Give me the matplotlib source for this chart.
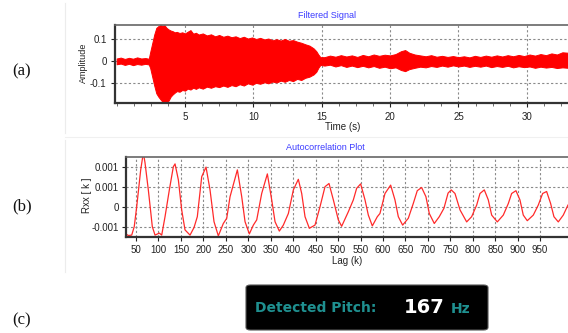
import matplotlib
matplotlib.use("Agg")
import matplotlib.pyplot as plt
from matplotlib.patches import FancyBboxPatch
from matplotlib.ticker import FixedLocator, FixedFormatter, MultipleLocator
from matplotlib.lines import Line2D

# ---------------- data: filtered signal envelope ----------------
sig_t = [0.0, 0.3, 0.6, 0.9, 1.2, 1.5, 1.8, 2.1, 2.35,
         2.45, 2.6, 2.75, 2.9, 3.05, 3.2, 3.35, 3.5, 3.65, 3.8,
         3.95, 4.1, 4.25, 4.4, 4.6, 4.8, 5.0, 5.2, 5.4, 5.6,
         5.8, 6.0, 6.3, 6.6, 6.9, 7.2, 7.5, 7.8, 8.1, 8.4,
         8.7, 9.0, 9.3, 9.6, 9.9, 10.2, 10.5, 10.8, 11.1, 11.4,
         11.7, 12.0, 12.3, 12.6, 12.9, 13.2, 13.5, 13.8, 14.1, 14.4,
         14.6, 14.75, 14.9,
         15.2, 15.6, 16.0, 16.4, 16.8, 17.2, 17.6, 18.0, 18.4, 18.8,
         19.2, 19.6, 20.0, 20.4, 20.8, 21.1, 21.4, 21.8, 22.2, 22.6,
         23.0, 23.4, 23.8, 24.2, 24.6, 25.0, 25.4, 25.8, 26.2, 26.6,
         27.0, 27.4, 27.8, 28.2, 28.6, 29.0, 29.4, 29.8, 30.2, 30.6,
         31.0, 31.4, 31.8, 32.2, 32.6, 33.0]
sig_hi = [0.012, 0.016, 0.010, 0.015, 0.011, 0.017, 0.012, 0.014, 0.011,
          0.04, 0.08, 0.12, 0.15, 0.158, 0.163, 0.16, 0.162, 0.15, 0.143,
          0.138, 0.135, 0.13, 0.132, 0.127, 0.13, 0.125, 0.133, 0.14, 0.124,
          0.128, 0.12, 0.125, 0.116, 0.121, 0.112, 0.118, 0.11, 0.115, 0.108,
          0.112, 0.104, 0.11, 0.102, 0.107, 0.1, 0.105, 0.098, 0.102, 0.094,
          0.099, 0.093, 0.1, 0.092, 0.095, 0.088, 0.083, 0.076, 0.07, 0.058,
          0.045, 0.03, 0.018,
          0.018, 0.025, 0.02, 0.027, 0.021, 0.026, 0.019, 0.028, 0.022, 0.03,
          0.024, 0.029, 0.026, 0.032, 0.045, 0.05, 0.038, 0.03, 0.026, 0.022,
          0.027, 0.02, 0.024, 0.019, 0.023, 0.018, 0.022, 0.017, 0.024, 0.019,
          0.025, 0.02, 0.026, 0.021, 0.027, 0.022, 0.028, 0.023, 0.03, 0.025,
          0.032, 0.027, 0.035, 0.03, 0.04, 0.038]
sig_lo = [-0.014, -0.011, -0.017, -0.012, -0.018, -0.013, -0.016, -0.012, -0.015,
          -0.03, -0.07, -0.11, -0.145, -0.16, -0.172, -0.183, -0.188, -0.185, -0.178,
          -0.16, -0.15, -0.142, -0.135, -0.138, -0.13, -0.133, -0.124, -0.128, -0.12,
          -0.125, -0.118, -0.124, -0.115, -0.12, -0.113, -0.117, -0.11, -0.116, -0.108,
          -0.113, -0.104, -0.11, -0.1, -0.106, -0.098, -0.102, -0.095, -0.1, -0.092,
          -0.096, -0.088, -0.093, -0.085, -0.09, -0.08, -0.085, -0.075, -0.07, -0.06,
          -0.048, -0.03, -0.017,
          -0.02, -0.016, -0.024, -0.018, -0.026, -0.02, -0.027, -0.021, -0.028, -0.022,
          -0.03, -0.025, -0.032, -0.028, -0.04, -0.045, -0.036, -0.03, -0.025, -0.028,
          -0.022, -0.026, -0.02, -0.025, -0.019, -0.024, -0.02, -0.026, -0.021, -0.025,
          -0.02, -0.027, -0.022, -0.026, -0.021, -0.028, -0.023, -0.027, -0.024, -0.03,
          -0.025, -0.029, -0.026, -0.031, -0.028, -0.03]

# ---------------- data: autocorrelation ----------------
acf_lag = [25.5, 33, 40.4, 46, 51.5, 60.4, 66.3, 70, 77.4, 86.3,
           92.3, 101.9, 107.2, 114.6, 124.2, 133.1, 136.9, 144.3, 151.7, 159.1,
           170.3, 179.2, 186.5, 196.3, 205.9, 214.8, 223.7, 233.3, 244.4, 252,
           259.4, 275.7, 285.4, 292.8, 302.4, 311.3, 318.8, 329.9, 342.5, 352.2,
           359.6, 369.2, 378.1, 389.3, 400.4, 411.5, 419, 426.4, 436, 448.6,
           459.8, 470.9, 479.8, 489.5, 500.6, 508, 522.9, 534, 541.4, 550.3,
           560, 567.4, 576.3, 587.4, 593.3, 604.5, 617.1, 626.7, 634.2, 643.8,
           656.4, 667.5, 676.4, 686.1, 695.7, 703.2, 714.3, 725.4, 735.8, 745,
           752, 760.4, 771.6, 786.4, 797.5, 808.7, 816.1, 825.7, 834.6, 842.1,
           854.7, 868, 879.2, 886.6, 896.2, 905.1, 912.5, 921.4, 934.8, 945.9,
           955.6, 964.5, 973.4, 980.8, 990.5, 1001.6, 1012]
acf_val = [-0.00067, -0.00072, -0.00071, -0.0005, 0.0, 0.00092, 0.00135, 0.0011, 0.00042, -0.0005,
           -0.00071, -0.00066, -0.00071, -0.00025, 0.00042, 0.001, 0.00107, 0.00067, -0.00008, -0.00058,
           -0.00071, -0.00052, -0.00025, 0.00075, 0.00099, 0.00042, -0.000375, -0.00073, -0.00042, -0.00029,
           0.00025, 0.00092, 0.00025, -0.000375, -0.00068, -0.00046, -0.00033, 0.00033, 0.00082, 0.00017,
           -0.000375, -0.00061, -0.00046, -0.00017, 0.00042, 0.000685, 0.00033, -0.00025, -0.00054, -0.00046,
           0.0, 0.0005, 0.00058, 0.00017, -0.00033, -0.00049, -0.000125, 0.00017, 0.00046, 0.00057,
           0.00017, -0.00021, -0.00048, -0.00025, -0.00017, 0.00033, 0.00054, 0.00017, -0.00025, -0.00046,
           -0.00029, 0.00008, 0.0004, 0.00048, 0.00025, -0.00017, -0.00042, -0.00025, -0.00004, 0.00034,
           0.00042, 0.00033, -0.00008, -0.00038, -0.00025, 0.00004, 0.00033, 0.00042, 0.00017, -0.00021,
           -0.00038, -0.00021, 0.00008, 0.00033, 0.0004, 0.00017, -0.00021, -0.00035, -0.00021, 0.00004,
           0.00033, 0.00038, 0.00008, -0.00025, -0.00038, -0.00021, 0.00004]

sig_xticks = [5, 10, 15, 20, 25, 30]
sig_yticks = [-0.1, 0, 0.1]
sig_ylabels = ["-0.1", "0", "0.1"]
acf_xticks = [50, 100, 150, 200, 250, 300, 350, 400, 450, 500,
              550, 600, 650, 700, 750, 800, 850, 900, 950]
acf_yticks = [-0.0005, 0, 0.0005, 0.001]
acf_ylabels = ["-0.001", "0", "0.001", "0.001"]

pitch_value = "167"

# ---------------- figure ----------------
W, H = 568, 333
fig = plt.figure(figsize=(W / 100, H / 100), dpi=100)
fig.patch.set_facecolor("white")
plt.rcParams["font.family"] = ["Liberation Sans", "DejaVu Sans"]

def fx(px):
    return px / W

def fy(py):
    return 1 - py / H

grid_kw = dict(color="#8a8a8a", linestyle=(0, (2, 2)), linewidth=0.8)
tick_color = "#222222"

# faint panel borders
fig.add_artist(Line2D([fx(65), fx(65)], [fy(3), fy(133)], color="#ececec", lw=0.8))
fig.add_artist(Line2D([fx(65), fx(65)], [fy(140), fy(272)], color="#ececec", lw=0.8))
fig.add_artist(Line2D([fx(65), fx(568)], [fy(137), fy(137)], color="#f0f0f0", lw=0.8))

# ---- panel (a) ----
ax1 = fig.add_axes([fx(115), fy(103.3), fx(571 - 115), (103.3 - 25) / H])
ax1.fill_between(sig_t, sig_lo, sig_hi, color="#ff0000", linewidth=0.7, edgecolor="#ff0000")
ax1.set_xlim(-0.12, 33.23)
ax1.set_ylim(-0.19, 0.163)
ax1.xaxis.set_major_locator(FixedLocator(sig_xticks))
ax1.xaxis.set_minor_locator(MultipleLocator(1.25))
ax1.yaxis.set_major_locator(FixedLocator(sig_yticks))
ax1.yaxis.set_major_formatter(FixedFormatter(sig_ylabels))
ax1.grid(True, which="major", **grid_kw)
ax1.set_axisbelow(True)
ax1.tick_params(axis="both", which="major", labelsize=7, length=3, width=0.8,
                colors=tick_color, pad=3)
ax1.tick_params(axis="x", which="minor", length=2, width=0.6, colors="#555555")
ax1.tick_params(axis="y", which="major", pad=3)

# ---- panel (b) ----
ax2 = fig.add_axes([fx(125.7), fy(236.7), fx(571 - 125.7), (236.7 - 157.3) / H])
ax2.plot(acf_lag, acf_val, color="#ff2a2a", linewidth=0.9)
ax2.set_xlim(27, 1018.8)
ax2.set_ylim(-0.00075, 0.001235)
ax2.xaxis.set_major_locator(FixedLocator(acf_xticks))
ax2.yaxis.set_major_locator(FixedLocator(acf_yticks))
ax2.yaxis.set_major_formatter(FixedFormatter(acf_ylabels))
ax2.grid(True, which="major", **grid_kw)
ax2.set_axisbelow(True)
ax2.tick_params(axis="both", which="major", labelsize=7, length=3, width=0.8,
                colors=tick_color, pad=3)
ax2.tick_params(axis="y", which="major", pad=2)

for ax in (ax1, ax2):
    for side, sp in ax.spines.items():
        sp.set_color("#333333")
        sp.set_linewidth(1.6)
    ax.spines["top"].set_color("#666666")
    ax.spines["top"].set_linewidth(1.2)

# titles and axis labels (figure coordinates)
fig.text(fx(326.7), fy(15), "Filtered Signal", color="#3b3bff", fontsize=6.5,
         ha="center", va="center")
fig.text(fx(342.7), fy(127), "Time (s)", color="#222222", fontsize=7,
         ha="center", va="center")
fig.text(fx(83), fy(63.3), "Amplitude", color="#222222", fontsize=6.5,
         ha="center", va="center", rotation=90)

fig.text(fx(325), fy(147.3), "Autocorrelation Plot", color="#3b3bff", fontsize=6.5,
         ha="center", va="center")
fig.text(fx(347), fy(261), "Lag (k)", color="#222222", fontsize=7,
         ha="center", va="center")
fig.text(fx(86.7), fy(195), "Rxx [ k ]", color="#222222", fontsize=7,
         ha="center", va="center", rotation=90)

# panel labels
for lab, yy in (("(a)", 71), ("(b)", 206), ("(c)", 320)):
    fig.text(fx(22), fy(yy), lab, fontsize=12, family="Liberation Serif",
             ha="center", va="center", color="#111111")

# ---- panel (c): detected pitch box ----
box = FancyBboxPatch((fx(246), fy(330)), fx(488 - 246), (330 - 285) / H,
                     boxstyle="round,pad=0,rounding_size=0.008",
                     transform=fig.transFigure, facecolor="black",
                     edgecolor="#555555", linewidth=0.8)
fig.add_artist(box)
teal = "#1f9090"
fig.text(fx(255), fy(308.5), "Detected Pitch:", color=teal, fontsize=10,
         fontweight="bold", family=["DejaVu Sans"], ha="left", va="center")
fig.text(fx(424), fy(307.5), pitch_value, color="white", fontsize=14,
         fontweight="bold", family=["DejaVu Sans"], ha="center", va="center")
fig.text(fx(451), fy(309), "Hz", color=teal, fontsize=10,
         fontweight="bold", family=["DejaVu Sans"], ha="left", va="center")

fig.savefig("out.png", dpi=100, facecolor="white")
